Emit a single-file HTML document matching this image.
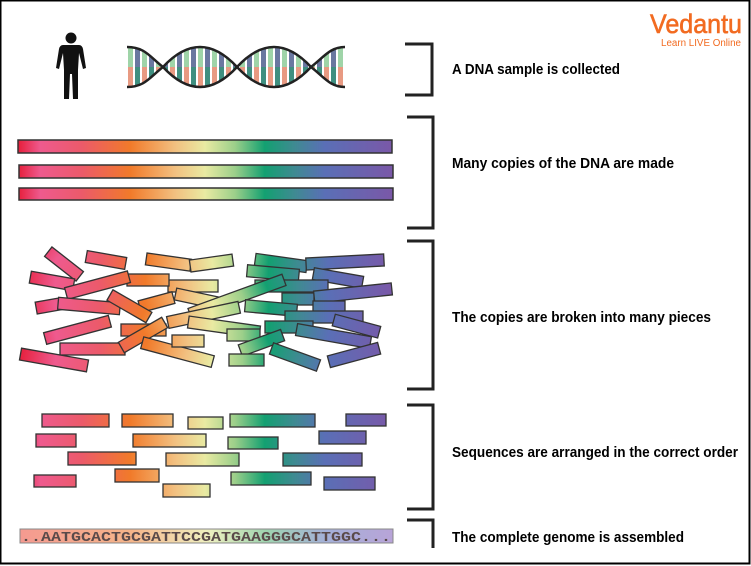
<!DOCTYPE html>
<html><head><meta charset="utf-8"><style>
html,body{margin:0;padding:0;background:#fff;}
svg{display:block;}
</style></head><body>
<svg width="751" height="566" viewBox="0 0 751 566" xmlns="http://www.w3.org/2000/svg">
<defs>
<linearGradient id="g" gradientUnits="userSpaceOnUse" x1="18" y1="0" x2="392" y2="0">
<stop offset="0" stop-color="#e61e3a"/>
<stop offset="0.06" stop-color="#ee5a8e"/>
<stop offset="0.17" stop-color="#ec5a6a"/>
<stop offset="0.30" stop-color="#f17a2a"/>
<stop offset="0.42" stop-color="#f2c080"/>
<stop offset="0.50" stop-color="#e9eaa2"/>
<stop offset="0.58" stop-color="#9ccf8a"/>
<stop offset="0.66" stop-color="#13a071"/>
<stop offset="0.74" stop-color="#3f8a92"/>
<stop offset="0.82" stop-color="#5a6fb6"/>
<stop offset="1" stop-color="#7a58a8"/>
</linearGradient>
<linearGradient id="g2" gradientUnits="userSpaceOnUse" x1="18" y1="0" x2="392" y2="0">
<stop offset="0" stop-color="#e61e3a"/>
<stop offset="0.10" stop-color="#ee5a8e"/>
<stop offset="0.22" stop-color="#ec5a6a"/>
<stop offset="0.34" stop-color="#f17a2a"/>
<stop offset="0.45" stop-color="#f2c080"/>
<stop offset="0.52" stop-color="#e9eaa2"/>
<stop offset="0.60" stop-color="#9ccf8a"/>
<stop offset="0.67" stop-color="#13a071"/>
<stop offset="0.75" stop-color="#3f8a92"/>
<stop offset="0.83" stop-color="#5a6fb6"/>
<stop offset="1" stop-color="#7a58a8"/>
</linearGradient>
<linearGradient id="gp" gradientUnits="userSpaceOnUse" x1="20" y1="0" x2="393" y2="0">
<stop offset="0" stop-color="#f59a90"/>
<stop offset="0.3" stop-color="#f5b58a"/>
<stop offset="0.5" stop-color="#f0f0c0"/>
<stop offset="0.66" stop-color="#9fd4b0"/>
<stop offset="0.82" stop-color="#a4b0d8"/>
<stop offset="1" stop-color="#b8a4d8"/>
</linearGradient>
<pattern id="rung" patternUnits="userSpaceOnUse" x="128" y="47" width="14" height="40">
<rect x="0" y="0" width="14" height="40" fill="#fff"/>
<rect x="0" y="0" width="5" height="20" fill="#9fd4a8"/>
<rect x="0" y="20" width="5" height="20" fill="#e89a82"/>
<rect x="7" y="0" width="5" height="20" fill="#6a78a0"/>
<rect x="7" y="20" width="5" height="20" fill="#3f8f80"/>
</pattern>
</defs>
<rect x="0.5" y="0.5" width="749" height="563" fill="#fff" stroke="#000" stroke-width="2"/>

<!-- person -->
<circle cx="71" cy="38" r="5.5" fill="#111"/>
<path d="M63,45 L79,45 Q82,45 83,49 L86,68 L83,69 L79,53 L78,70 L78,99 L73,99 L72,74 L70,74 L69,99 L64,99 L64,70 L63,53 L59,69 L56,68 L59,49 Q60,45 63,45 Z" fill="#111"/>

<!-- helix -->
<path d="M127,47 C145,47 150,57 163,67 Q200,107 237,67 Q274,27 311,67 C324,77 330,87 345,87 L345,47 C330,47 324,57 311,67 Q274,107 237,67 Q200,27 163,67 C150,77 145,87 127,87 Z" fill="url(#rung)"/>
<g fill="none" stroke="#222" stroke-width="2.5">
<path d="M127,47 C145,47 150,57 163,67 Q200,107 237,67 Q274,27 311,67 C324,77 330,87 345,87"/>
<path d="M127,87 C145,87 150,77 163,67 Q200,27 237,67 Q274,107 311,67 C324,57 330,47 345,47"/>
</g>

<!-- bars -->
<g fill="url(#g)" stroke="#333" stroke-width="1.5">
<rect x="18" y="140" width="374" height="13"/>
<rect x="19" y="165" width="374" height="13"/>
<rect x="19" y="188" width="374" height="12"/>
</g>

<!-- broken pieces -->
<g fill="url(#g2)" stroke="#333" stroke-width="1.3">
<rect x="44" y="258" width="40" height="12" transform="rotate(38 64 264)"/>
<rect x="86" y="254" width="40" height="12" transform="rotate(10 106 260)"/>
<rect x="146" y="256" width="45" height="12" transform="rotate(8 168 262)"/>
<rect x="190" y="257" width="43" height="12" transform="rotate(-8 212 263)"/>
<rect x="255" y="257" width="52" height="12" transform="rotate(8 281 263)"/>
<rect x="306" y="256" width="78" height="12" transform="rotate(-3 345 262)"/>
<rect x="30" y="275" width="44" height="12" transform="rotate(10 52 281)"/>
<rect x="247" y="267" width="52" height="12" transform="rotate(5 273 273)"/>
<rect x="313" y="272" width="50" height="12" transform="rotate(10 338 278)"/>
<rect x="168" y="280" width="50" height="12"/>
<rect x="127" y="274" width="42" height="12"/>
<rect x="65" y="279" width="65" height="12" transform="rotate(-15 98 285)"/>
<rect x="255" y="280" width="73" height="12"/>
<rect x="36" y="300" width="25" height="12" transform="rotate(-10 48 306)"/>
<rect x="58" y="300" width="62" height="12" transform="rotate(5 89 306)"/>
<rect x="139" y="296" width="35" height="12" transform="rotate(-15 157 302)"/>
<rect x="175" y="293" width="48" height="12" transform="rotate(12 199 299)"/>
<rect x="187" y="291" width="100" height="12" transform="rotate(-20 237 297)"/>
<rect x="282" y="293" width="32" height="12"/>
<rect x="314" y="287" width="78" height="12" transform="rotate(-6 353 293)"/>
<rect x="245" y="302" width="52" height="12" transform="rotate(5 271 308)"/>
<rect x="313" y="301" width="32" height="12"/>
<rect x="107" y="300" width="45" height="12" transform="rotate(30 129 306)"/>
<rect x="44" y="324" width="67" height="12" transform="rotate(-15 77 330)"/>
<rect x="121" y="324" width="45" height="12"/>
<rect x="167" y="309" width="73" height="12" transform="rotate(-12 203 315)"/>
<rect x="188" y="321" width="72" height="12" transform="rotate(8 224 327)"/>
<rect x="285" y="311" width="78" height="12"/>
<rect x="265" y="321" width="48" height="12"/>
<rect x="333" y="320" width="47" height="12" transform="rotate(15 356 326)"/>
<rect x="60" y="343" width="65" height="12"/>
<rect x="118" y="329" width="50" height="12" transform="rotate(-30 143 335)"/>
<rect x="141" y="346" width="73" height="12" transform="rotate(15 177 352)"/>
<rect x="172" y="335" width="32" height="12"/>
<rect x="227" y="329" width="33" height="12"/>
<rect x="239" y="337" width="45" height="12" transform="rotate(-20 261 343)"/>
<rect x="296" y="330" width="75" height="12" transform="rotate(10 333 336)"/>
<rect x="20" y="354" width="68" height="12" transform="rotate(10 54 360)"/>
<rect x="229" y="354" width="35" height="12"/>
<rect x="270" y="351" width="50" height="12" transform="rotate(20 295 357)"/>
<rect x="328" y="349" width="52" height="12" transform="rotate(-15 354 355)"/>
</g>

<!-- arranged -->
<g fill="url(#g)" stroke="#333" stroke-width="1.3">
<rect x="42" y="414" width="67" height="13"/>
<rect x="122" y="414" width="51" height="13"/>
<rect x="188" y="417" width="35" height="12"/>
<rect x="230" y="414" width="85" height="13"/>
<rect x="346" y="414" width="40" height="12"/>
<rect x="36" y="434" width="40" height="13"/>
<rect x="133" y="434" width="73" height="13"/>
<rect x="228" y="437" width="50" height="12"/>
<rect x="319" y="431" width="47" height="13"/>
<rect x="68" y="452" width="68" height="13"/>
<rect x="166" y="453" width="73" height="13"/>
<rect x="283" y="453" width="79" height="13"/>
<rect x="115" y="469" width="44" height="13"/>
<rect x="231" y="472" width="80" height="13"/>
<rect x="34" y="475" width="42" height="12"/>
<rect x="324" y="477" width="51" height="13"/>
<rect x="163" y="484" width="47" height="13"/>
</g>

<!-- sequence -->
<rect x="20" y="529" width="373" height="14" fill="url(#gp)" stroke="#888" stroke-width="1"/>
<text x="21" y="541" font-family="Liberation Mono, monospace" font-weight="bold" font-size="14" fill="#5a4a4a" textLength="370" lengthAdjust="spacingAndGlyphs">..AATGCACTGCGATTCCGATGAAGGGCATTGGC...</text>

<!-- brackets -->
<g fill="none" stroke="#222" stroke-width="3">
<path d="M405,44 L432,44 L432,95 L405,95"/>
<path d="M407,117 L433,117 L433,228 L407,228"/>
<path d="M407,241 L433,241 L433,389 L407,389"/>
<path d="M407,405 L433,405 L433,509 L407,509"/>
<path d="M407,520 L433,520 L433,548"/>
</g>

<!-- labels -->
<g font-family="Liberation Sans, sans-serif" font-weight="bold" font-size="15" fill="#000">
<text x="452" y="74" textLength="168" lengthAdjust="spacingAndGlyphs">A DNA sample is collected</text>
<text x="452" y="168" textLength="222" lengthAdjust="spacingAndGlyphs">Many copies of the DNA are made</text>
<text x="452" y="322" textLength="259" lengthAdjust="spacingAndGlyphs">The copies are broken into many pieces</text>
<text x="452" y="457" textLength="286" lengthAdjust="spacingAndGlyphs">Sequences are arranged in the correct order</text>
<text x="452" y="542" textLength="232" lengthAdjust="spacingAndGlyphs">The complete genome is assembled</text>
</g>

<!-- logo -->
<text x="650" y="33" font-family="Liberation Sans, sans-serif" font-size="27" fill="#f26b21" stroke="#f26b21" stroke-width="0.6" textLength="92" lengthAdjust="spacingAndGlyphs">Vedantu</text>
<text x="661" y="46" font-family="Liberation Sans, sans-serif" font-size="10" fill="#f26b21" textLength="80" lengthAdjust="spacingAndGlyphs">Learn LIVE Online</text>
</svg>
</body></html>
